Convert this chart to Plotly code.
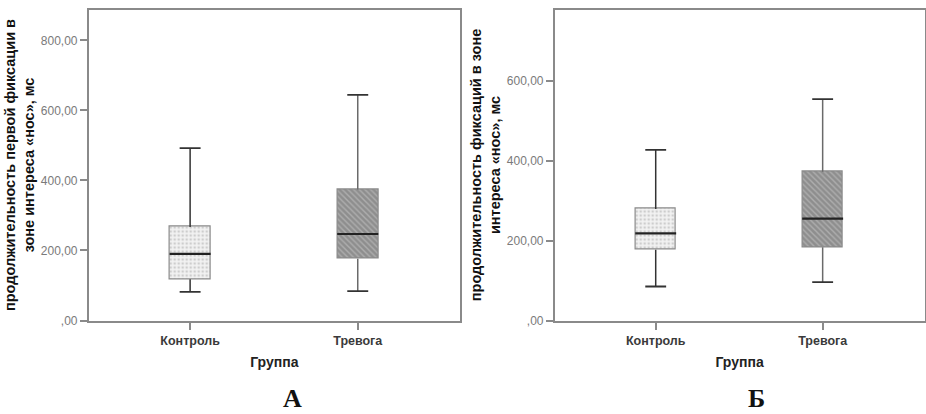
import plotly.graph_objects as go
from plotly.subplots import make_subplots

categories = ["Контроль", "Тревога"]

# Panel A: first fixation duration, "nose" AOI (ms)
a_lower = [82, 84]
a_q1 = [118, 176]
a_median = [190, 247]
a_q3 = [267, 374]
a_upper = [492, 644]

# Panel B: fixation duration, "nose" AOI (ms)
b_lower = [85, 96]
b_q1 = [177, 183]
b_median = [218, 255]
b_q3 = [279, 372]
b_upper = [427, 554]

a_ticks = [0, 200, 400, 600, 800]
a_ticktext = [",00", "200,00", "400,00", "600,00", "800,00"]
b_ticks = [0, 200, 400, 600]
b_ticktext = [",00", "200,00", "400,00", "600,00"]

a_title = "продолжительность первой фиксации в<br>зоне интереса «нос», мс"
b_title = "продолжительность фиксаций в зоне<br>интереса «нос», мс"
panel_labels = ["А", "Б"]

BOX_W = 0.245
CAP_W = 0.125
FONT = "Liberation Sans, Arial, sans-serif"

patterns = [
    dict(shape=".", bgcolor="#f2f2f2", fgcolor="#a8a8a8", size=4, solidity=0.35),
    dict(shape="\\", bgcolor="#8e8e8e", fgcolor="#cdcdcd", size=4, solidity=0.35),
]
whisker_colors = ["#333333", "#6a6a6a"]

fig = make_subplots(rows=1, cols=2)


def add_panel(col, lower, q1, med, q3, upper):
    for i, cat in enumerate(categories):
        fig.add_trace(go.Bar(
            x=[i], y=[q3[i] - q1[i]], base=[q1[i]], width=BOX_W,
            marker=dict(color=patterns[i]["bgcolor"], pattern=patterns[i],
                        line=dict(color="#8a8a8a", width=1.2)),
            showlegend=False, hoverinfo="skip"), row=1, col=col)
        # whisker stems
        fig.add_trace(go.Scatter(
            x=[i, i, None, i, i], y=[q3[i], upper[i], None, q1[i], lower[i]],
            mode="lines", line=dict(color=whisker_colors[i], width=1.5),
            showlegend=False, hoverinfo="skip"), row=1, col=col)
        # caps
        fig.add_trace(go.Scatter(
            x=[i - CAP_W / 2, i + CAP_W / 2, None, i - CAP_W / 2, i + CAP_W / 2],
            y=[upper[i], upper[i], None, lower[i], lower[i]],
            mode="lines", line=dict(color="#333333", width=1.8),
            showlegend=False, hoverinfo="skip"), row=1, col=col)
        # median
        fig.add_trace(go.Scatter(
            x=[i - BOX_W / 2, i + BOX_W / 2], y=[med[i], med[i]],
            mode="lines", line=dict(color="#222222", width=2.2),
            showlegend=False, hoverinfo="skip"), row=1, col=col)


add_panel(1, a_lower, a_q1, a_median, a_q3, a_upper)
add_panel(2, b_lower, b_q1, b_median, b_q3, b_upper)

ydom = [1 - 320.5 / 414, 1 - 9.5 / 414]
xaxis_common = dict(
    tickvals=[0, 1], ticktext=categories, range=[-0.605, 1.61],
    showline=True, linecolor="#8a8a8a", linewidth=1.5, mirror=True,
    ticks="outside", ticklen=8, tickcolor="#8a8a8a", tickwidth=1.5,
    showgrid=False, zeroline=False, automargin=False,
    tickfont=dict(family=FONT, size=12.5, color="#3a3a3a", weight="bold"),
    title=dict(text="<b>Группа</b>", font=dict(family=FONT, size=14, color="#222"), standoff=10),
)
yaxis_common = dict(
    showline=True, linecolor="#8a8a8a", linewidth=1.5, mirror=True,
    ticks="outside", ticklen=7, tickcolor="#8a8a8a", tickwidth=1.5,
    showgrid=False, zeroline=False, automargin=False,
    tickfont=dict(family=FONT, size=12, color="#7a7a7a"),
)

fig.update_layout(
    width=926, height=414, margin=dict(l=0, r=0, t=0, b=0),
    paper_bgcolor="white", plot_bgcolor="white",
    bargap=0, barmode="overlay",
    xaxis=dict(domain=[88.7 / 926, 460 / 926], **xaxis_common),
    xaxis2=dict(domain=[554.7 / 926, 924.5 / 926], **xaxis_common),
    yaxis=dict(domain=ydom, range=[0, 888], tickvals=a_ticks, ticktext=a_ticktext,
               title=dict(text="<b>" + a_title + "</b>", font=dict(family=FONT, size=14.5, color="#111"), standoff=3),
               **yaxis_common),
    yaxis2=dict(domain=ydom, range=[0, 778], tickvals=b_ticks, ticktext=b_ticktext,
                title=dict(text="<b>" + b_title + "</b>", font=dict(family=FONT, size=14.5, color="#111"), standoff=3),
                **yaxis_common),
)

for xpix, lab in zip([292, 756], panel_labels):
    fig.add_annotation(
        x=xpix / 926, y=1 - 398 / 414, xref="paper", yref="paper",
        xanchor="center", yanchor="middle",
        text="<b>" + lab + "</b>", showarrow=False,
        font=dict(family="Liberation Serif, Times New Roman, serif", size=26, color="#111"))

fig.write_html("out.html", config={"displayModeBar": False},
               post_script="document.body.style.margin='0';")
